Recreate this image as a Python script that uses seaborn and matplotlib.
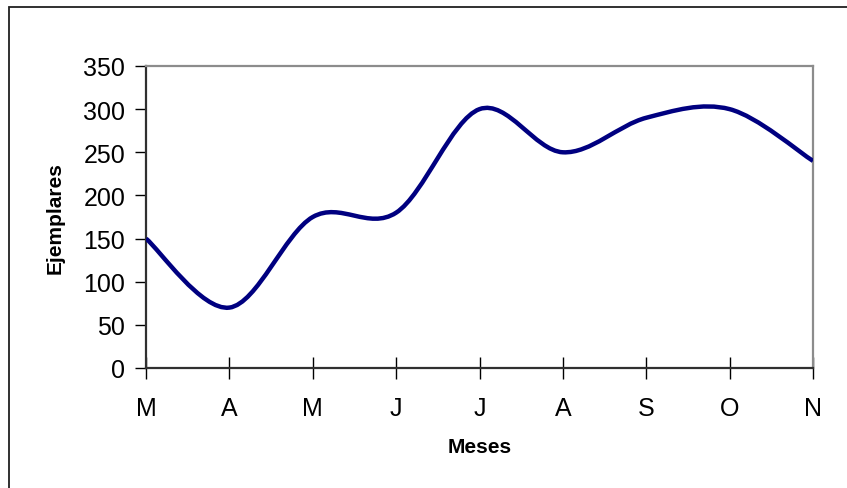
import numpy as np
import matplotlib
matplotlib.use("Agg")
import matplotlib.pyplot as plt
import seaborn as sns
from matplotlib.path import Path
from matplotlib.patches import PathPatch, Rectangle

# Datos del grafico
meses = ["M", "A", "M", "J", "J", "A", "S", "O", "N"]
ejemplares = [150, 70, 175, 180, 300, 250, 290, 300, 240]
y_ticks = [0, 50, 100, 150, 200, 250, 300, 350]

sns.set_theme(style="white")
plt.rcParams['font.family'] = ['Liberation Sans', 'DejaVu Sans']
plt.rcParams['text.color'] = 'black'
plt.rcParams['axes.labelcolor'] = 'black'
plt.rcParams['xtick.color'] = 'black'
plt.rcParams['ytick.color'] = 'black'

fig = plt.figure(figsize=(8.47, 4.89), dpi=100)
ax = fig.add_axes([146 / 847, 1 - 369 / 489, (813 - 146) / 847, (369 - 67) / 489])

# linea suavizada (estilo Excel): curvas Bezier tipo Catmull-Rom entre los puntos
x = np.arange(len(meses))
pts = np.column_stack([x, ejemplares]).astype(float)
ext = np.vstack([pts[0], pts, pts[-1]])
verts = [pts[0]]
codes = [Path.MOVETO]
for i in range(len(pts) - 1):
    p0, p1, p2, p3 = ext[i], ext[i + 1], ext[i + 2], ext[i + 3]
    verts += [p1 + (p2 - p0) / 6, p2 - (p3 - p1) / 6, p2]
    codes += [Path.CURVE4] * 3
ax.add_patch(PathPatch(Path(verts, codes), fill=False, edgecolor="#000080",
                       lw=3.2, capstyle="butt", joinstyle="round", zorder=3))

ax.set_xlim(0, len(meses) - 1)
ax.set_ylim(0, 350)
ax.set_xticks(x, meses)
ax.set_yticks(y_ticks)

ax.tick_params(axis='x', direction='inout', length=16, width=1, color='#000000',
               labelsize=18, pad=12, bottom=True)
ax.tick_params(axis='y', direction='out', length=8, width=1, color='#000000',
               labelsize=18, pad=7, left=True)

for side in ['left', 'bottom']:
    ax.spines[side].set_color('#303030')
    ax.spines[side].set_linewidth(1.6)
for side in ['top', 'right']:
    ax.spines[side].set_color('#8c8c8c')
    ax.spines[side].set_linewidth(1.6)
    ax.spines[side].set_visible(True)

ax.set_ylabel("Ejemplares", fontweight='bold', fontsize=15)
ax.yaxis.set_label_coords((65 - 146) / 667, 0.5)
ax.set_xlabel("Meses", fontweight='bold', fontsize=15)
ax.xaxis.set_label_coords(0.5, (369 - 438) / 302)

# marco exterior del grafico
fig.add_artist(Rectangle((9 / 847, -0.1), 1.2, 1.1 - 7.5 / 489, transform=fig.transFigure,
                         fill=False, edgecolor='#202020', lw=1.3))

fig.savefig("out.png", dpi=100)
